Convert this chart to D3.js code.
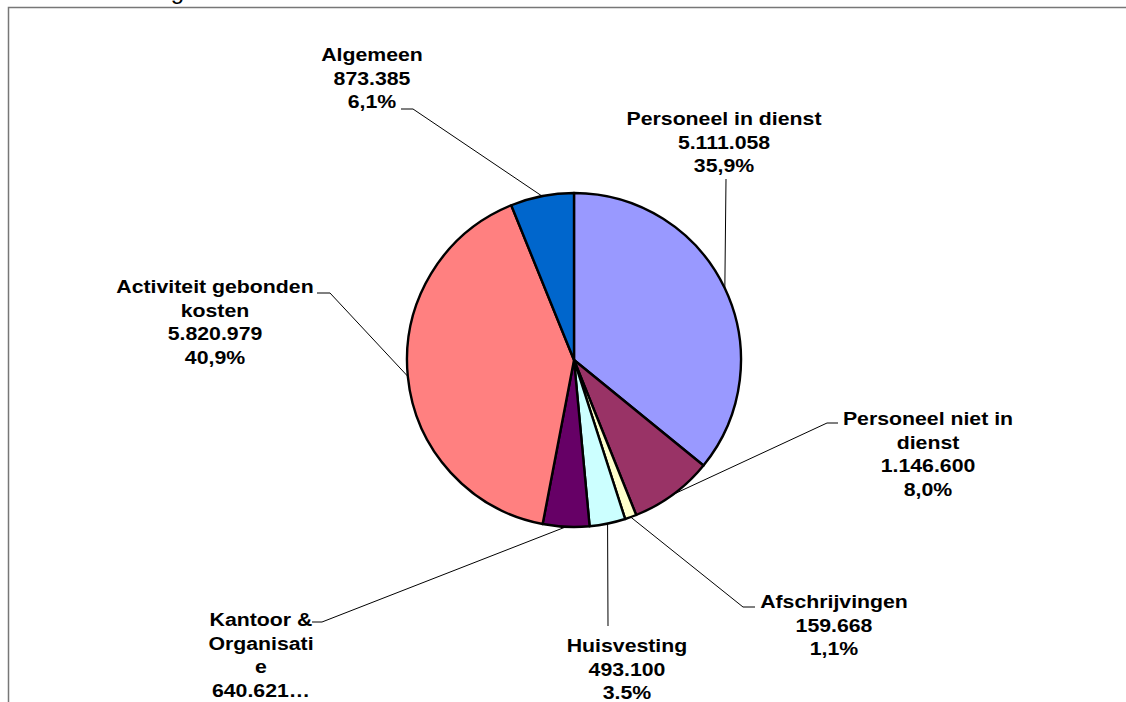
<!DOCTYPE html>
<html>
  <head>
    <style>
      body { margin: 0; background: #fff; }
      svg { display: block; }
      .lbl { font-family: "Liberation Sans", Arial, sans-serif; font-weight: bold; font-size: 19px; fill: #000; }
    </style>
  </head>
  <body>
    <svg class="surface" width="1126" height="702"></svg>

    <script src="https://cdn.jsdelivr.net/npm/d3@7/dist/d3.min.js" charset="utf-8"></script>
    <script>

      // data
      const categories = ['Personeel in dienst', 'Personeel niet in dienst', 'Afschrijvingen',
        'Huisvesting', 'Kantoor & Organisatie', 'Activiteit gebonden kosten', 'Algemeen']
      const values = [5111058, 1146600, 159668, 493100, 640621, 5820979, 873385]
      const pctLabels = ['35,9%', '8,0%', '1,1%', '3.5%', '', '40,9%', '6,1%']
      // how the names wrap in the picture
      const nameLines = [
        ['Personeel in dienst'],
        ['Personeel niet in', 'dienst'],
        ['Afschrijvingen'],
        ['Huisvesting'],
        ['Kantoor &', 'Organisati', 'e'],
        ['Activiteit gebonden', 'kosten'],
        ['Algemeen']
      ]
      const colors = ['#9999ff', '#993366', '#ffffcc', '#ccffff', '#660066', '#ff8080', '#0066cc']

      // layout: label centre + first baseline, leader points (label side)
      const labelPos = [[724, 125], [928, 425], [834, 608], [627, 652], [261, 626], [215, 293], [372, 61]]
      const leaderPts = [
        [[726, 179]],
        [[827, 423], [838, 423]],
        [[743, 607], [755, 607]],
        [[608, 626]],
        [[322, 622], [312, 622]],
        [[330, 293], [317, 293]],
        [[413, 109], [401, 109]]
      ]

      const surface = d3.select('.surface')
      const cx = 574, cy = 360, r = 167

      const nl = d3.formatLocale({ decimal: ',', thousands: '.', grouping: [3], currency: ['€', ''] })
      const fmt = nl.format(',d')

      // frame + clipped title
      surface.append('rect')
        .attr('x', 8.5).attr('y', 7.5)
        .attr('width', 1300).attr('height', 900)
        .attr('fill', 'none').attr('stroke', '#777').attr('stroke-width', 1.5)

      surface.append('text')
        .attr('x', 184).attr('y', -1)
        .attr('text-anchor', 'end')
        .style('font-family', 'Liberation Sans, Arial, sans-serif')
        .style('font-size', '24px')
        .attr('fill', '#000')
        .text('Kostenverdeling')

      const pie = d3.pie().sort(null).value(d => d)
      const arcs = pie(values)
      const arc = d3.arc().innerRadius(0).outerRadius(r)
      const edge = d3.arc().innerRadius(r).outerRadius(r)

      const g = surface.append('g').attr('transform', `translate(${cx},${cy})`)

      g.selectAll('path.slice').data(arcs)
        .enter().append('path')
          .attr('class', 'slice')
          .attr('d', arc)
          .attr('fill', (d, i) => colors[i])
          .attr('stroke', '#000')
          .attr('stroke-width', 2.4)
          .attr('stroke-linejoin', 'round')

      // leader lines
      const line = d3.line()
      surface.selectAll('path.leader').data(arcs)
        .enter().append('path')
          .attr('class', 'leader')
          .attr('d', (d, i) => {
            const c = edge.centroid(d)
            return line([[cx + c[0], cy + c[1]]].concat(leaderPts[i]))
          })
          .attr('fill', 'none')
          .attr('stroke', '#000')
          .attr('stroke-width', 1)

      // labels
      const labels = surface.selectAll('text.lbl').data(arcs)
        .enter().append('text')
          .attr('class', 'lbl')
          .attr('text-anchor', 'middle')
          .attr('transform', (d, i) => `translate(${labelPos[i][0]},${labelPos[i][1]}) scale(1.12,1)`)

      labels.each(function (d, i) {
        let lines = nameLines[i].concat([fmt(values[i])])
        if (pctLabels[i]) lines.push(pctLabels[i])
        else lines[lines.length - 1] += '…'
        d3.select(this).selectAll('tspan').data(lines)
          .enter().append('tspan')
            .attr('x', 0)
            .attr('y', (t, j) => j * 23.7)
            .text(t => t)
      })

    </script>
  </body>
</html>
